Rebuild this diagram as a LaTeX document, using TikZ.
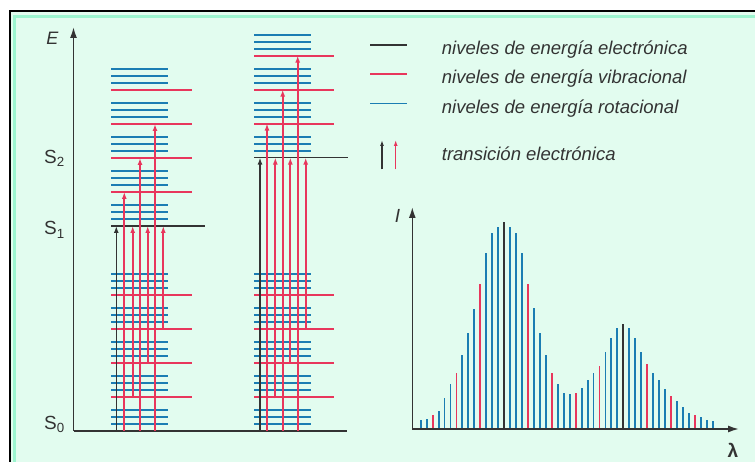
\documentclass[tikz,border=0pt]{standalone}
\usepackage{fontspec}
\setmainfont{Liberation Sans}
\usetikzlibrary{arrows.meta}
\definecolor{bgmint}{HTML}{E2FCEF}
\definecolor{frameaqua}{HTML}{9CF5CF}
\definecolor{rotblue}{HTML}{1B7DB3}
\definecolor{vibred}{HTML}{E8365C}
\definecolor{elblack}{HTML}{333333}
\tikzset{
  rotline/.style={rotblue, line width=2pt},
  vibline/.style={vibred, line width=2pt},
  elline/.style={elblack, line width=1.6pt},
  axisline/.style={elblack, line width=1.6pt},
  bigtip/.style={-{Latex[length=11pt,width=7pt]}},
  redarrow/.style={vibred, line width=1.7pt, -{Latex[length=7pt,width=5pt]}},
  blackarrow/.style={elblack, line width=1.5pt, -{Latex[length=7pt,width=5pt]}},
  legtext/.style={anchor=base west, inner sep=0pt, font=\fontsize{18.5}{18.5}\selectfont\itshape, text=elblack},
  bigsym/.style={inner sep=0pt, font=\fontsize{19}{19}\selectfont, text=elblack},
  bar/.style={line width=1.9pt}
}
\begin{document}
\begin{tikzpicture}[x=1pt,y=-1pt]
\useasboundingbox (0,0) rectangle (755,462);
\fill[white] (0,0) rectangle (755,462);
\fill[bgmint] (9,11) rectangle (800,500);
\draw[frameaqua, line width=3pt] (14.5,16.5) rectangle (800,500);
\draw[black, line width=2pt] (9.5,11.5) rectangle (800,500);

% ---------- energy axes ----------
\coordinate (origin) at (73.5,430.7);
\coordinate (etop) at (73.5,27);
\coordinate (eend) at (346.7,430.7);
\draw[axisline, bigtip] (origin) -- (etop);
\draw[axisline] (origin) -- (eend);
\node[bigsym, font=\fontsize{18}{18}\selectfont\itshape, anchor=base] (Elabel) at (52.5,44.3) {E};
\node[bigsym, anchor=base west] (S2) at (44,163.3) {S\textsubscript{2}};
\node[bigsym, anchor=base west] (S1) at (44,235) {S\textsubscript{1}};
\node[bigsym, anchor=base west] (S0) at (44,429.3) {S\textsubscript{0}};

% ---------- ground state, both stacks ----------
\foreach \xa/\xb/\xc in {111/168.3/191.7, 254/310.7/334}{
  \foreach \k in {0,...,4}{
    \pgfmathsetmacro\yy{430.7-34*\k}
    \foreach \o in {6.5,13.5,20.5}{
      \draw[rotline] (\xa,\yy-\o) -- (\xb,\yy-\o);
    }
    \ifnum\k>0
      \draw[vibline] (\xa,\yy) -- (\xc,\yy);
    \fi
  }
}

% ---------- left excited stack (S1) ----------
\foreach \k in {0,...,4}{
  \pgfmathsetmacro\yy{226-34*\k}
  \foreach \o in {6.5,13.5,20.5}{
    \draw[rotline] (111,\yy-\o) -- (168.3,\yy-\o);
  }
  \ifnum\k>0
    \draw[vibline] (111,\yy) -- (191.7,\yy);
  \fi
}
\draw[elline] (111,226) -- (205.3,226);

% ---------- right excited stack (S2) ----------
\foreach \k in {0,...,3}{
  \pgfmathsetmacro\yy{157.6-34*\k}
  \foreach \o in {6.5,13.5,20.5}{
    \draw[rotline] (254,\yy-\o) -- (310.7,\yy-\o);
  }
  \ifnum\k>0
    \draw[vibline] (254,\yy) -- (334,\yy);
  \fi
}
\draw[elline] (254,157.6) -- (347.7,157.6);

% ---------- transitions, left ----------
\draw[blackarrow] (116.3,430.7) -- (116.3,226);
\draw[redarrow] (124.3,430.7) -- (124.3,192);
\draw[redarrow] (140,430.7) -- (140,158);
\draw[redarrow] (155,430.7) -- (155,124);
\draw[redarrow] (132.7,396.7) -- (132.7,226);
\draw[redarrow] (147.7,362.7) -- (147.7,226);
\draw[redarrow] (163.3,328.7) -- (163.3,226);

% ---------- transitions, right ----------
\draw[blackarrow] (260,430.7) -- (260,157.6);
\draw[redarrow] (267,430.7) -- (267,123.6);
\draw[redarrow] (282.7,430.7) -- (282.7,89.6);
\draw[redarrow] (297.7,430.7) -- (297.7,55.6);
\draw[redarrow] (275.3,398.3) -- (275.3,157.6);
\draw[redarrow] (290.3,362.7) -- (290.3,157.6);
\draw[redarrow] (305.7,328.7) -- (305.7,157.6);

% ---------- legend ----------
\draw[elblack, line width=1.2pt] (370,45) -- (407.3,45);
\draw[vibred, line width=1.5pt] (370,74) -- (407.3,74);
\draw[rotblue, line width=1.5pt] (370,103.3) -- (407.3,103.3);
\node[legtext] (L1) at (441.7,54.3) {niveles de energía electrónica};
\node[legtext] (L2) at (441.7,83.3) {niveles de energía vibracional};
\node[legtext] (L3) at (441.7,113.3) {niveles de energía rotacional};
\node[legtext] (L4) at (441.7,161) {transición electrónica};
\draw[elblack, line width=1.2pt, -{Latex[length=6pt,width=4pt]}] (382,169.3) -- (382,140);
\draw[vibred, line width=1.2pt, -{Latex[length=6pt,width=4pt]}] (395.7,169.3) -- (395.7,140);

% ---------- spectrum ----------
\coordinate (sorigin) at (412.3,429);
\coordinate (stop) at (412.3,207);
\coordinate (send) at (739,429);
\foreach \i/\t/\c in {0/420/rotblue,1/418.7/rotblue,2/415/vibred,3/411/rotblue,4/398.3/rotblue,
  5/384/rotblue,6/372.7/vibred,7/355/rotblue,8/333.3/rotblue,9/309/rotblue,10/284/vibred,
  11/253.3/rotblue,12/233/rotblue,13/226.7/rotblue,14/221.7/elblack,15/226.7/rotblue,
  16/233/rotblue,17/253.3/rotblue,18/284/vibred,19/308/rotblue,20/333.3/rotblue,
  21/355/rotblue,22/372.7/vibred,23/384/rotblue,24/393.3/rotblue,25/394.3/rotblue,
  26/393/vibred,27/388.3/rotblue,28/380.3/rotblue,29/373/rotblue,30/366/vibred,
  31/352.3/rotblue,32/338.3/rotblue,33/328/rotblue,34/324.3/elblack,35/328/rotblue,
  36/338.3/rotblue,37/351.7/rotblue,38/364/vibred,39/372.7/rotblue,40/380.3/rotblue,
  41/389.3/rotblue,42/395.7/vibred,43/401/rotblue,44/407/rotblue,45/413.3/rotblue,
  46/415/vibred,47/417.3/rotblue,48/419.7/rotblue,49/421/rotblue}{
  \draw[bar, \c] (420.7+5.96*\i,429) -- (420.7+5.96*\i,\t);
}
\draw[axisline, bigtip] (sorigin) -- (stop);
\draw[axisline, bigtip] (sorigin) -- (send);
\node[bigsym, font=\fontsize{19}{19}\selectfont\itshape, anchor=base] (Ilabel) at (397.5,222.5) {I};
\node[bigsym, font=\fontsize{19}{19}\selectfont\bfseries, anchor=base] (lam) at (733,457) {λ};
\end{tikzpicture}
\end{document}
